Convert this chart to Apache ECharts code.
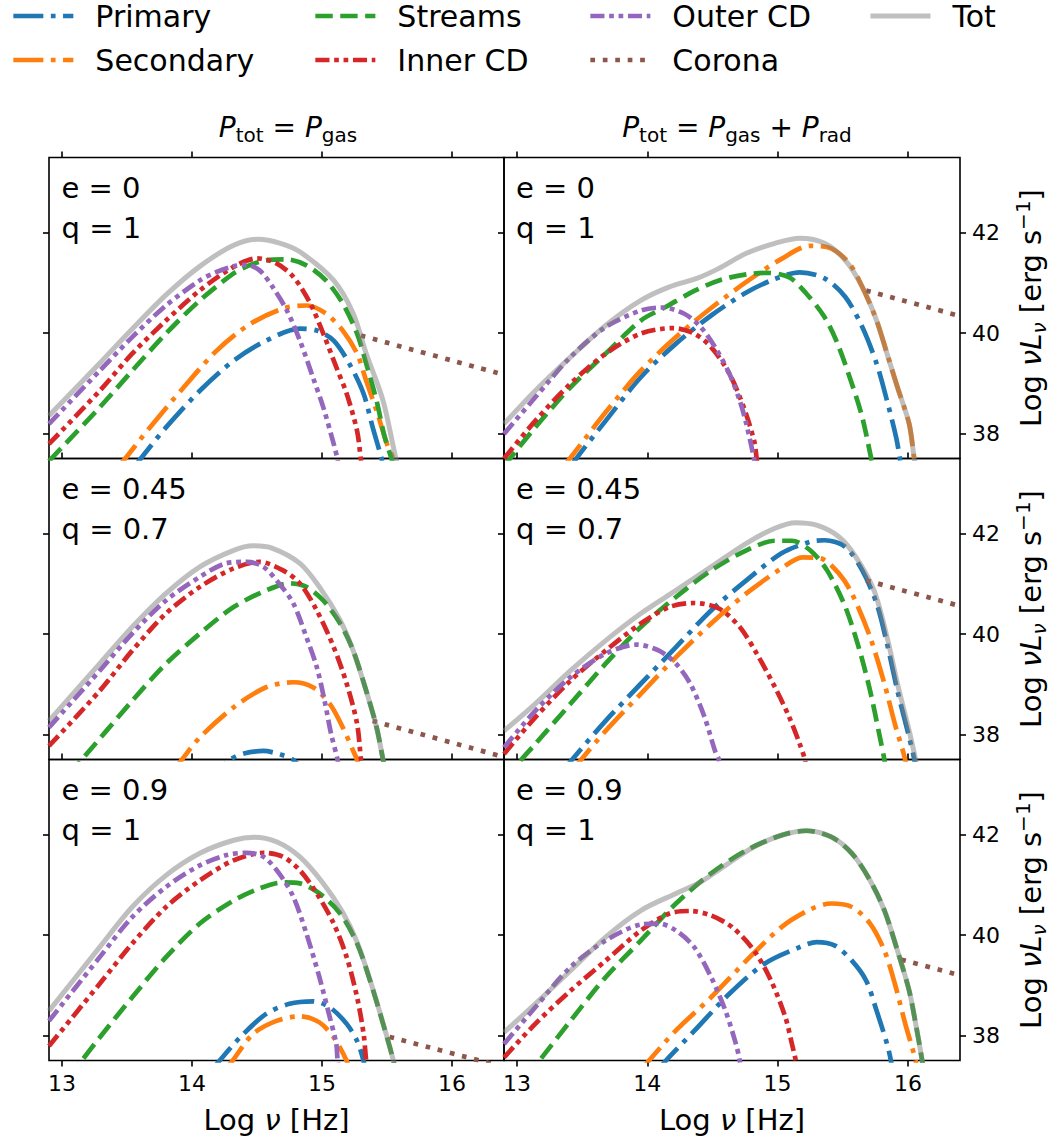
<!DOCTYPE html>
<html>
<head>
<meta charset="utf-8">
<title>SED components</title>
<script src="https://cdn.jsdelivr.net/npm/echarts@6.0.0/dist/echarts.min.js"></script>
<style>
html,body{margin:0;padding:0;background:#ffffff;}
#chart{width:1051px;height:1138px;}
</style>
</head>
<body>
<div id="chart"></div>
<script>
// ---------------- ticks / names ----------------
const xTicks = [13, 14, 15, 16];
const yTicks = [38, 40, 42];
const componentNames = ['Primary', 'Secondary', 'Streams', 'Inner CD', 'Outer CD', 'Corona', 'Tot'];
const panelLabels = ['e = 0\nq = 1', 'e = 0\nq = 1', 'e = 0.45\nq = 0.7', 'e = 0.45\nq = 0.7', 'e = 0.9\nq = 1', 'e = 0.9\nq = 1'];

// ---------------- data: [log nu, log nuLnu] ----------------
// Row 1, P_tot = P_gas
const g1_primary   = [[13.55,37.3],[13.60,37.48],[13.80,38.12],[14.06,38.85],[14.32,39.45],[14.57,39.85],[14.83,40.09],[14.96,40.05],[15.09,39.85],[15.21,39.39],[15.32,38.79],[15.39,38.12],[15.46,37.48],[15.49,37.1]];
const g1_secondary = [[13.42,37.3],[13.48,37.48],[13.67,38.1],[13.93,38.9],[14.19,39.65],[14.44,40.17],[14.70,40.49],[14.88,40.55],[15.03,40.39],[15.16,40.05],[15.27,39.59],[15.34,39.05],[15.42,38.45],[15.50,37.79],[15.55,37.48],[15.58,37.1]];
const g1_streams   = [[12.90,37.45],[13.29,38.52],[13.54,39.25],[13.80,39.99],[14.06,40.65],[14.32,41.19],[14.44,41.35],[14.57,41.45],[14.73,41.47],[14.88,41.35],[15.03,41.05],[15.16,40.59],[15.27,39.99],[15.34,39.39],[15.42,38.65],[15.48,37.95],[15.54,37.45],[15.57,37.1]];
const g1_inner     = [[12.90,37.79],[13.29,38.85],[13.54,39.59],[13.80,40.25],[14.06,40.85],[14.32,41.32],[14.50,41.49],[14.65,41.39],[14.78,41.12],[14.91,40.59],[15.01,39.99],[15.11,39.32],[15.19,38.79],[15.27,38.05],[15.30,37.48],[15.33,37.1]];
const g1_outer     = [[12.90,38.19],[13.29,39.25],[13.54,39.92],[13.80,40.55],[14.06,41.05],[14.19,41.22],[14.32,41.33],[14.42,41.36],[14.52,41.25],[14.62,40.92],[14.73,40.45],[14.83,39.85],[14.93,39.12],[15.01,38.52],[15.09,37.79],[15.12,37.48],[15.14,37.2]];
const g1_corona    = [[15.30,39.95],[16.40,39.17]];
const g1_tot       = [[12.90,38.35],[13.29,39.40],[13.54,40.08],[13.80,40.76],[14.06,41.33],[14.32,41.75],[14.51,41.87],[14.68,41.79],[14.83,41.62],[15.09,41.05],[15.24,40.39],[15.34,39.59],[15.47,38.65],[15.57,37.48],[15.62,37.0]];

// Row 1, P_tot = P_gas + P_rad
const r1_primary   = [[13.40,37.25],[13.45,37.48],[13.68,38.25],[13.95,39.12],[14.22,39.79],[14.49,40.35],[14.76,40.81],[14.98,41.08],[15.17,41.21],[15.36,41.09],[15.52,40.72],[15.65,40.12],[15.76,39.39],[15.84,38.65],[15.91,37.92],[15.94,37.48],[15.96,37.1]];
const r1_secondary = [[13.35,37.3],[13.40,37.48],[13.68,38.42],[13.95,39.25],[14.22,39.92],[14.49,40.50],[14.76,41.02],[15.03,41.48],[15.25,41.74],[15.41,41.69],[15.55,41.39],[15.65,40.92],[15.76,40.25],[15.84,39.59],[15.92,38.92],[16.01,38.19],[16.05,37.48],[16.08,37.1]];
const r1_streams   = [[12.90,37.35],[13.14,38.12],[13.41,38.92],[13.68,39.59],[13.95,40.25],[14.14,40.52],[14.36,40.84],[14.55,41.05],[14.76,41.17],[14.92,41.20],[15.09,41.11],[15.22,40.79],[15.36,40.32],[15.46,39.79],[15.57,38.99],[15.65,38.32],[15.72,37.48],[15.75,37.1]];
const r1_inner     = [[12.90,37.50],[13.14,38.25],[13.41,38.99],[13.68,39.59],[13.95,39.99],[14.20,40.10],[14.36,39.99],[14.49,39.72],[14.63,39.19],[14.74,38.52],[14.82,37.85],[14.84,37.48],[14.86,37.1]];
const r1_outer     = [[12.90,37.99],[13.14,38.72],[13.41,39.52],[13.68,40.12],[13.95,40.45],[14.11,40.51],[14.28,40.39],[14.41,40.12],[14.52,39.72],[14.63,39.19],[14.71,38.65],[14.76,38.19],[14.82,37.48],[14.84,37.1]];
const r1_corona    = [[15.68,40.85],[16.40,40.34]];
const r1_tot       = [[12.90,38.19],[13.14,38.85],[13.41,39.52],[13.68,40.15],[13.95,40.65],[14.17,40.92],[14.38,41.09],[14.55,41.29],[14.76,41.59],[14.98,41.79],[15.17,41.89],[15.36,41.79],[15.52,41.45],[15.65,40.92],[15.76,40.25],[15.84,39.59],[15.92,38.92],[16.01,38.19],[16.05,37.48],[16.08,37.1]];

// Row 2, P_tot = P_gas
const g2_primary   = [[14.10,37.0],[14.29,37.49],[14.40,37.62],[14.55,37.67],[14.68,37.60],[14.78,37.49],[14.95,37.0]];
const g2_secondary = [[13.85,37.25],[13.92,37.49],[14.06,37.94],[14.32,38.54],[14.57,38.94],[14.78,39.04],[14.93,38.94],[15.06,38.61],[15.16,38.14],[15.24,37.67],[15.27,37.49],[15.29,37.2]];
const g2_streams   = [[13.05,37.2],[13.15,37.49],[13.54,38.67],[13.80,39.41],[14.06,40.01],[14.32,40.54],[14.57,40.87],[14.75,41.01],[14.88,40.94],[15.01,40.67],[15.14,40.21],[15.24,39.67],[15.34,38.87],[15.42,38.14],[15.47,37.49],[15.50,37.1]];
const g2_inner     = [[12.90,37.77],[13.29,38.87],[13.54,39.67],[13.80,40.41],[14.06,40.94],[14.32,41.31],[14.52,41.44],[14.70,41.27],[14.83,41.01],[14.96,40.47],[15.09,39.74],[15.19,39.01],[15.27,38.21],[15.30,37.49],[15.32,37.1]];
const g2_outer     = [[12.90,38.14],[13.29,39.27],[13.54,40.01],[13.80,40.67],[14.06,41.14],[14.26,41.41],[14.42,41.44],[14.55,41.34],[14.67,41.01],[14.78,40.61],[14.88,39.94],[14.96,39.34],[15.02,38.67],[15.07,38.01],[15.12,37.49],[15.14,37.1]];
const g2_corona    = [[15.39,38.27],[16.40,37.55]];
const g2_tot       = [[12.90,38.27],[13.29,39.41],[13.54,40.14],[13.80,40.81],[14.06,41.34],[14.32,41.67],[14.47,41.76],[14.62,41.71],[14.83,41.41],[14.98,40.94],[15.14,40.27],[15.24,39.67],[15.34,38.87],[15.42,38.14],[15.47,37.49],[15.50,37.1]];

// Row 2, P_tot = P_gas + P_rad
const r2_primary   = [[13.35,37.25],[13.42,37.49],[13.68,38.27],[13.95,39.01],[14.22,39.74],[14.49,40.47],[14.76,41.07],[15.03,41.61],[15.25,41.84],[15.36,41.87],[15.52,41.74],[15.65,41.27],[15.76,40.61],[15.84,39.81],[15.92,38.87],[16.01,37.94],[16.05,37.49],[16.07,37.1]];
const r2_secondary = [[13.42,37.25],[13.49,37.49],[13.68,38.07],[13.95,38.81],[14.22,39.54],[14.49,40.21],[14.76,40.81],[15.03,41.31],[15.19,41.53],[15.33,41.51],[15.47,41.21],[15.57,40.81],[15.71,39.94],[15.82,39.01],[15.90,38.21],[15.98,37.49],[16.00,37.1]];
const r2_streams   = [[12.90,37.1],[13.03,37.49],[13.14,37.81],[13.41,38.61],[13.68,39.41],[13.95,40.14],[14.22,40.74],[14.49,41.27],[14.76,41.67],[14.98,41.86],[15.11,41.86],[15.25,41.67],[15.38,41.27],[15.52,40.54],[15.63,39.67],[15.71,38.87],[15.78,38.01],[15.82,37.49],[15.84,37.1]];
const r2_inner     = [[12.90,37.61],[13.14,38.34],[13.41,39.07],[13.68,39.67],[13.95,40.21],[14.17,40.54],[14.36,40.62],[14.55,40.51],[14.71,40.14],[14.84,39.61],[14.98,38.94],[15.09,38.34],[15.17,37.81],[15.21,37.49],[15.23,37.1]];
const r2_outer     = [[12.90,37.74],[13.14,38.47],[13.41,39.14],[13.68,39.61],[13.92,39.79],[14.09,39.67],[14.22,39.41],[14.33,39.01],[14.44,38.34],[14.52,37.67],[14.55,37.49],[14.57,37.1]];
const r2_corona    = [[15.68,41.07],[16.40,40.56]];
const r2_tot       = [[12.90,38.07],[13.14,38.61],[13.41,39.27],[13.68,39.87],[13.95,40.41],[14.22,40.87],[14.49,41.34],[14.76,41.81],[14.98,42.11],[15.14,42.22],[15.30,42.17],[15.47,41.94],[15.60,41.54],[15.74,40.87],[15.84,39.94],[15.92,39.01],[16.01,38.07],[16.06,37.49],[16.09,37.1]];

// Row 3, P_tot = P_gas
const g3_primary   = [[14.15,37.3],[14.21,37.49],[14.37,37.96],[14.57,38.43],[14.75,38.63],[14.93,38.68],[15.06,38.56],[15.19,38.23],[15.27,37.89],[15.32,37.49],[15.34,37.2]];
const g3_secondary = [[14.25,37.3],[14.31,37.49],[14.47,38.03],[14.65,38.29],[14.83,38.38],[14.98,38.26],[15.09,37.96],[15.19,37.49],[15.22,37.2]];
const g3_streams   = [[13.05,37.15],[13.15,37.49],[13.29,37.96],[13.54,38.76],[13.80,39.56],[14.06,40.23],[14.32,40.69],[14.52,40.93],[14.70,41.05],[14.83,41.03],[14.98,40.83],[15.14,40.43],[15.27,39.83],[15.37,39.09],[15.47,38.23],[15.55,37.49],[15.58,37.1]];
const g3_inner     = [[12.90,37.79],[13.29,39.03],[13.54,39.83],[13.80,40.56],[14.06,41.09],[14.32,41.49],[14.55,41.64],[14.70,41.56],[14.83,41.29],[14.96,40.83],[15.09,40.23],[15.19,39.56],[15.27,38.76],[15.32,38.03],[15.34,37.49],[15.36,37.1]];
const g3_outer     = [[12.90,38.29],[13.29,39.56],[13.54,40.36],[13.80,40.96],[14.06,41.39],[14.26,41.59],[14.42,41.64],[14.55,41.56],[14.67,41.23],[14.78,40.76],[14.88,40.03],[14.98,39.16],[15.06,38.36],[15.11,37.83],[15.12,37.49],[15.14,37.1]];
const g3_corona    = [[15.52,37.97],[16.40,37.37]];
const g3_tot       = [[12.90,38.49],[13.29,39.76],[13.54,40.56],[13.80,41.19],[14.06,41.63],[14.32,41.89],[14.48,41.95],[14.65,41.86],[14.83,41.56],[15.01,41.03],[15.16,40.45],[15.27,39.86],[15.37,39.10],[15.47,38.24],[15.55,37.49],[15.58,37.1]];

// Row 3, P_tot = P_gas + P_rad
const r3_primary   = [[14.08,37.3],[14.14,37.49],[14.36,38.09],[14.63,38.83],[14.90,39.43],[15.17,39.76],[15.30,39.86],[15.44,39.79],[15.57,39.49],[15.68,39.09],[15.76,38.49],[15.84,37.83],[15.87,37.49],[15.89,37.1]];
const r3_secondary = [[13.95,37.3],[14.01,37.49],[14.22,38.10],[14.49,38.76],[14.76,39.49],[15.03,40.16],[15.25,40.51],[15.41,40.63],[15.57,40.56],[15.71,40.23],[15.82,39.69],[15.90,39.03],[15.98,38.23],[16.06,37.49],[16.08,37.1]];
const r3_streams   = [[13.07,37.15],[13.17,37.49],[13.41,38.29],[13.68,39.16],[13.95,39.89],[14.22,40.63],[14.49,41.23],[14.76,41.69],[15.03,41.99],[15.22,42.08],[15.41,41.96],[15.57,41.63],[15.71,41.09],[15.82,40.49],[15.92,39.69],[16.01,38.89],[16.06,38.23],[16.11,37.49],[16.13,37.1]];
const r3_inner     = [[12.90,37.56],[13.14,38.23],[13.41,38.89],[13.68,39.49],[13.95,40.09],[14.17,40.43],[14.33,40.48],[14.49,40.39],[14.65,40.16],[14.82,39.69],[14.95,39.09],[15.06,38.36],[15.11,37.83],[15.14,37.49],[15.16,37.1]];
const r3_outer     = [[12.90,37.83],[13.14,38.56],[13.41,39.36],[13.68,39.89],[13.95,40.21],[14.09,40.23],[14.22,40.09],[14.36,39.76],[14.49,39.16],[14.60,38.49],[14.68,37.83],[14.71,37.49],[14.73,37.1]];
const r3_corona    = [[15.95,39.51],[16.40,39.20]];
const r3_tot       = [[12.90,38.06],[13.14,38.63],[13.41,39.29],[13.68,39.96],[13.95,40.49],[14.22,40.83],[14.41,41.06],[14.60,41.39],[14.82,41.76],[15.03,41.99],[15.22,42.08],[15.41,41.96],[15.57,41.63],[15.71,41.09],[15.82,40.49],[15.92,39.69],[16.01,38.89],[16.06,38.23],[16.11,37.49],[16.13,37.1]];

const panelData = [
  [g1_primary, g1_secondary, g1_streams, g1_inner, g1_outer, g1_corona, g1_tot],
  [r1_primary, r1_secondary, r1_streams, r1_inner, r1_outer, r1_corona, r1_tot],
  [g2_primary, g2_secondary, g2_streams, g2_inner, g2_outer, g2_corona, g2_tot],
  [r2_primary, r2_secondary, r2_streams, r2_inner, r2_outer, r2_corona, r2_tot],
  [g3_primary, g3_secondary, g3_streams, g3_inner, g3_outer, g3_corona, g3_tot],
  [r3_primary, r3_secondary, r3_streams, r3_inner, r3_outer, r3_corona, r3_tot]
];

// ---------------- styles / layout ----------------
const FONT = 'DejaVu Sans';
const colors = ['#1f77b4', '#ff7f0e', '#2ca02c', '#d62728', '#9467bd', '#8c564b', '#808080'];
const LW = 4.7;
const dashDot = [30, 7.5, 4.7, 7.5];
const dashed = [17.4, 7.5];
const dashDotDot = [14.1, 4.7, 4.7, 4.7, 4.7, 4.7];
const dotted = [4.7, 7.75];
const lineTypes = [dashDot, dashDot, dashed, dashDotDot, dashDotDot, dotted, 'solid'];
const widths = [LW, LW, LW, LW, LW, LW, 5];
const opacities = [1, 1, 1, 1, 1, 1, 0.5];

const COL_LEFT = [49, 504];
const COL_W = [455, 456];
const ROW_TOP = [157.5, 458.5, 759.5];
const ROW_H = 301;
const X_MIN = 12.9, X_MAX = 16.4, Y_MIN = 37.5, Y_MAX = 43.5;

const tickStyle = {show: true, inside: false, length: 6, lineStyle: {color: '#000', width: 1.6}};

const richBase = function (fs) {
  return {
    n:   {fontSize: fs, fontFamily: FONT, lineHeight: 36, color: '#000', fill: '#000'},
    i:   {fontSize: fs, fontFamily: FONT, fontStyle: 'italic', lineHeight: 36, color: '#000', fill: '#000'},
    s:   {fontSize: Math.round(fs * 0.7), fontFamily: FONT, lineHeight: 20, verticalAlign: 'bottom', color: '#000', fill: '#000'},
    is:  {fontSize: Math.round(fs * 0.7), fontFamily: FONT, fontStyle: 'italic', lineHeight: 20, verticalAlign: 'bottom', color: '#000', fill: '#000'},
    sup: {fontSize: Math.round(fs * 0.7), fontFamily: FONT, lineHeight: 20, verticalAlign: 'top', color: '#000', fill: '#000'}
  };
};

const grids = [], xAxes = [], yAxes = [], series = [], graphics = [];

panelData.forEach(function (comps, i) {
  const row = Math.floor(i / 2), col = i % 2;
  grids.push({
    left: COL_LEFT[col], top: ROW_TOP[row], width: COL_W[col], height: ROW_H,
    show: true, borderColor: '#000', borderWidth: 1.6, backgroundColor: 'transparent', containLabel: false
  });
  const xIdx = xAxes.length;
  xAxes.push({
    type: 'value', gridIndex: i, position: 'top', min: X_MIN, max: X_MAX,
    axisLine: {show: false}, splitLine: {show: false},
    axisTick: Object.assign({customValues: xTicks}, tickStyle),
    axisLabel: {show: false}
  });
  if (row === 2) {
    xAxes.push({
      type: 'value', gridIndex: i, position: 'bottom', min: X_MIN, max: X_MAX,
      axisLine: {show: false}, splitLine: {show: false},
      axisTick: Object.assign({customValues: xTicks}, tickStyle),
      axisLabel: {show: true, customValues: xTicks, fontSize: 22, fontFamily: FONT, color: '#000', margin: 12},
      name: '{n|Log }{i|ν}{n| [Hz]}', nameLocation: 'middle', nameGap: 41,
      nameTextStyle: {fontSize: 29, fontFamily: FONT, color: '#000', rich: richBase(29)}
    });
  }
  const yIdx = yAxes.length;
  if (col === 0) {
    yAxes.push({
      type: 'value', gridIndex: i, position: 'left', min: Y_MIN, max: Y_MAX,
      axisLine: {show: false}, splitLine: {show: false},
      axisTick: Object.assign({customValues: yTicks}, tickStyle),
      axisLabel: {show: false}
    });
  } else {
    yAxes.push({
      type: 'value', gridIndex: i, position: 'right', min: Y_MIN, max: Y_MAX,
      axisLine: {show: false}, splitLine: {show: false},
      axisTick: Object.assign({customValues: yTicks}, tickStyle),
      axisLabel: {show: true, customValues: yTicks, fontSize: 22, fontFamily: FONT, color: '#000', margin: 12},
      name: '{n|Log }{i|νL}{is|ν}{n| [erg s}{sup|−1}{n|]}', nameLocation: 'middle', nameRotate: 90, nameGap: 53,
      nameTextStyle: {fontSize: 29, fontFamily: FONT, color: '#000', rich: richBase(29)}
    });
    yAxes.push({
      type: 'value', gridIndex: i, position: 'left', min: Y_MIN, max: Y_MAX,
      axisLine: {show: false}, splitLine: {show: false},
      axisTick: Object.assign({customValues: yTicks}, tickStyle),
      axisLabel: {show: false}
    });
  }
  comps.forEach(function (arr, k) {
    series.push({
      name: componentNames[k], type: 'line', xAxisIndex: xIdx, yAxisIndex: yIdx,
      data: arr, symbol: 'none', showSymbol: false, smooth: 0.3, clip: true,
      silent: true, animation: false, z: k === 6 ? 5 : 3,
      lineStyle: {color: colors[k], width: widths[k], type: lineTypes[k], opacity: opacities[k], cap: 'butt', join: 'round'},
      itemStyle: {color: colors[k]},
      emphasis: {disabled: true}
    });
  });
  graphics.push({
    type: 'text', silent: true,
    x: col === 0 ? 61.5 : 516, y: ROW_TOP[row] + 10.5,
    style: {
      text: panelLabels[i], fontSize: 29, fontFamily: FONT, fill: '#000',
      lineHeight: 40, align: 'left', verticalAlign: 'top', textAlign: 'left', textVerticalAlign: 'top'
    }
  });
});

// column titles
graphics.push({
  type: 'text', silent: true, x: 288, y: 127,
  style: {text: '{i|P}{s|tot}{n| = }{i|P}{s|gas}', align: 'center', verticalAlign: 'middle',
          textAlign: 'center', textVerticalAlign: 'middle', fontSize: 28, fontFamily: FONT, fill: '#000', rich: richBase(28)}
});
graphics.push({
  type: 'text', silent: true, x: 737, y: 127,
  style: {text: '{i|P}{s|tot}{n| = }{i|P}{s|gas}{n| + }{i|P}{s|rad}', align: 'center', verticalAlign: 'middle',
          textAlign: 'center', textVerticalAlign: 'middle', fontSize: 28, fontFamily: FONT, fill: '#000', rich: richBase(28)}
});

// legends: one per entry so the 4-column matplotlib layout is reproduced
const legendPos = [[11, 1], [11, 45], [313, 1], [313, 45], [588, 1], [588, 45], [868, 1]];
const legends = componentNames.map(function (n, k) {
  return {
    data: [n], left: legendPos[k][0], top: legendPos[k][1], padding: 0,
    itemWidth: 60, itemHeight: 14, itemGap: 0, selectedMode: false,
    lineStyle: {color: colors[k], width: widths[k], type: lineTypes[k], opacity: opacities[k], cap: 'butt'},
    itemStyle: {color: 'rgba(0,0,0,0)', opacity: 0, borderWidth: 0},
    textStyle: {fontFamily: FONT, fontSize: 30, color: '#000', padding: [0, 0, 0, 17], lineHeight: 30}
  };
});

const chart = echarts.init(document.getElementById('chart'), null, {renderer: 'svg', width: 1051, height: 1138});
chart.setOption({
  backgroundColor: '#ffffff',
  animation: false,
  textStyle: {fontFamily: FONT},
  grid: grids,
  xAxis: xAxes,
  yAxis: yAxes,
  legend: legends,
  graphic: graphics,
  series: series
});
</script>
</body>
</html>
